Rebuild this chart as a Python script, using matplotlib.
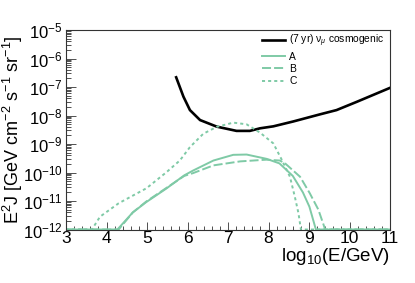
import numpy as np
import matplotlib
matplotlib.use("Agg")
import matplotlib.pyplot as plt
from matplotlib.ticker import FixedLocator, MultipleLocator, FuncFormatter

plt.rcParams['font.family'] = ['Liberation Sans', 'DejaVu Sans']
plt.rcParams['mathtext.fontset'] = 'custom'
plt.rcParams['mathtext.rm'] = 'Liberation Sans'
plt.rcParams['mathtext.it'] = 'Liberation Sans:italic'
plt.rcParams['mathtext.bf'] = 'Liberation Sans:bold'
plt.rcParams['lines.scale_dashes'] = False

# ---- data (log10 E/GeV, log10 E^2 J) ----
cosmo_logE = [5.72, 5.90, 6.06, 6.31, 6.72, 7.21, 7.54, 7.79, 8.12, 8.61, 9.27, 9.68, 10.18, 11.0]
cosmo_logF = [-6.66, -7.34, -7.81, -8.16, -8.39, -8.54, -8.54, -8.45, -8.38, -8.21, -7.96, -7.81, -7.52, -7.03]

A_logE = [3.0, 4.27, 4.65, 4.98, 5.47, 5.92, 6.14, 6.64, 7.13, 7.46, 7.95, 8.27, 8.60, 8.85, 9.01, 9.17, 11.0]
A_logF = [-12.0, -12.0, -11.4, -11.04, -10.57, -10.10, -9.93, -9.58, -9.38, -9.37, -9.52, -9.68, -10.12, -10.70, -11.20, -12.0, -12.0]

B_logE = [3.0, 4.30, 4.65, 4.98, 5.47, 5.92, 6.14, 6.64, 7.30, 7.95, 8.28, 8.41, 8.78, 9.02, 9.23, 9.40, 11.0]
B_logF = [-12.0, -12.0, -11.4, -11.02, -10.55, -10.12, -10.02, -9.75, -9.61, -9.55, -9.58, -9.68, -10.15, -10.73, -11.30, -12.0, -12.0]

C_logE = [3.0, 3.64, 3.84, 4.30, 4.99, 5.48, 5.81, 6.06, 6.39, 6.72, 7.13, 7.46, 7.79, 8.12, 8.33, 8.53, 8.65, 8.74, 8.80, 11.0]
C_logF = [-12.0, -12.0, -11.55, -11.08, -10.55, -9.99, -9.58, -9.11, -8.64, -8.40, -8.25, -8.31, -8.60, -8.98, -9.56, -10.15, -10.85, -11.43, -12.0, -12.0]

labels = ["(7 yr) ν$_{\\mu}$ cosmogenic", "A", "B", "C"]
xticks = [3, 4, 5, 6, 7, 8, 9, 10, 11]
yexp = [-12, -11, -10, -9, -8, -7, -6, -5]

green = '#7fcaa6'

fig = plt.figure(figsize=(4.15, 2.83), dpi=100)
ax = fig.add_axes([66/415, 1-229.5/283, (390-66)/415, (229.5-30)/283])

ax.plot(cosmo_logE, 10**np.array(cosmo_logF), color='black', lw=1.9, label=labels[0])
ax.plot(A_logE, 10**np.array(A_logF), color=green, lw=1.4, label=labels[1])
ax.plot(B_logE, 10**np.array(B_logF), color=green, lw=1.4, dashes=(6.5, 2.2), label=labels[2])
ax.plot(C_logE, 10**np.array(C_logF), color=green, lw=1.4, dashes=(2.2, 2.2), label=labels[3])

ax.set_yscale('log')
ax.set_xlim(3, 11)
ax.set_ylim(1e-12, 1e-5)

ax.xaxis.set_major_locator(FixedLocator(xticks))
ax.xaxis.set_minor_locator(MultipleLocator(0.2))
ax.yaxis.set_major_locator(FixedLocator([10.0**e for e in yexp]))
ax.yaxis.set_minor_locator(FixedLocator([m * 10.0**e for e in yexp[:-1] for m in range(2, 10)]))
ax.yaxis.set_major_formatter(FuncFormatter(lambda v, p: '10$^{%d}$' % int(round(np.log10(v)))))
ax.yaxis.set_minor_formatter(FuncFormatter(lambda v, p: ''))

ax.tick_params(which='both', direction='in', top=False, right=False, colors='#333333',
               labelcolor='black', width=0.6)
ax.tick_params(axis='x', which='major', length=6, labelsize=12.5, pad=1)
ax.tick_params(axis='x', which='minor', length=3)
ax.tick_params(axis='y', which='major', length=7, labelsize=12, pad=2.5)
ax.tick_params(axis='y', which='minor', length=3.5)
for s in ax.spines.values():
    s.set_linewidth(0.8)
    s.set_color('#333333')

ax.set_xlabel('log$_{10}$(E/GeV)', fontsize=13.5, loc='right', labelpad=0)
ax.set_ylabel('E$^{2}$J [GeV cm$^{-2}$ s$^{-1}$ sr$^{-1}$]', fontsize=13)
ax.yaxis.set_label_coords((25 - 66) / 324, 0.5)

leg = ax.legend(loc='upper left', bbox_to_anchor=(196/324, 1-(33-30)/199.5),
                frameon=False, fontsize=7.4, handlelength=2.2, handletextpad=0.45,
                labelspacing=0.22, borderaxespad=0, borderpad=0)

fig.savefig('out.png', dpi=100)
